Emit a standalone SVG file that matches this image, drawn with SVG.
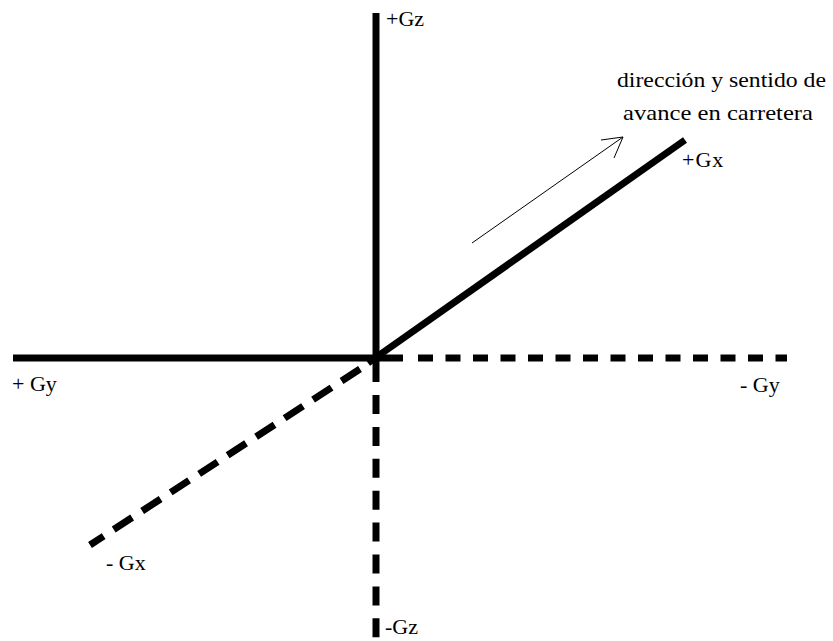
<svg xmlns="http://www.w3.org/2000/svg" width="833" height="641" viewBox="0 0 833 641">
<style>
.ax{stroke:#000;stroke-width:7;fill:none;stroke-linecap:butt}
.dash{stroke-dasharray:15 12.5}
.vdash{stroke-dasharray:19 12.9}
.ddash{stroke-dasharray:22 12}
.lbl{font-family:"Liberation Serif","Times New Roman",serif;font-size:22px;fill:#000}
.arr{stroke:#000;stroke-width:1;fill:none}
</style>
<rect width="833" height="641" fill="#fff"/>
<g id="connectors">
<line id="axis-pz" class="ax" x1="376" y1="13" x2="376" y2="382"/>
<line id="axis-nz" class="ax vdash" x1="376" y1="395" x2="376" y2="641"/>
<line id="axis-py" class="ax" x1="13" y1="358" x2="403" y2="358"/>
<line id="axis-ny" class="ax dash" x1="418" y1="358" x2="787" y2="358"/>
<line id="axis-px" class="ax" x1="368" y1="363" x2="685" y2="140"/>
<line id="axis-nx" class="ax ddash" x1="360" y1="369" x2="90" y2="545"/>
<g id="direction-arrow">
<line class="arr" x1="472" y1="243" x2="623" y2="137"/>
<polyline class="arr" points="601,140 623,137 614,158"/>
</g>
</g>
<g id="label-pz"><text class="lbl" x="386" y="26">+Gz</text></g>
<g id="label-nz"><text class="lbl" x="385" y="634">-Gz</text></g>
<g id="label-py"><text class="lbl" x="12" y="391">+ Gy</text></g>
<g id="label-ny"><text class="lbl" x="740" y="392">- Gy</text></g>
<g id="label-px"><text class="lbl" x="682" y="167" letter-spacing="1">+Gx</text></g>
<g id="label-nx"><text class="lbl" x="106" y="570">- Gx</text></g>
<g id="label-direction">
<text class="lbl" x="617" y="87" textLength="209" lengthAdjust="spacingAndGlyphs">dirección y sentido de</text>
<text class="lbl" x="623" y="120" textLength="190" lengthAdjust="spacingAndGlyphs">avance en carretera</text>
</g>
</svg>
